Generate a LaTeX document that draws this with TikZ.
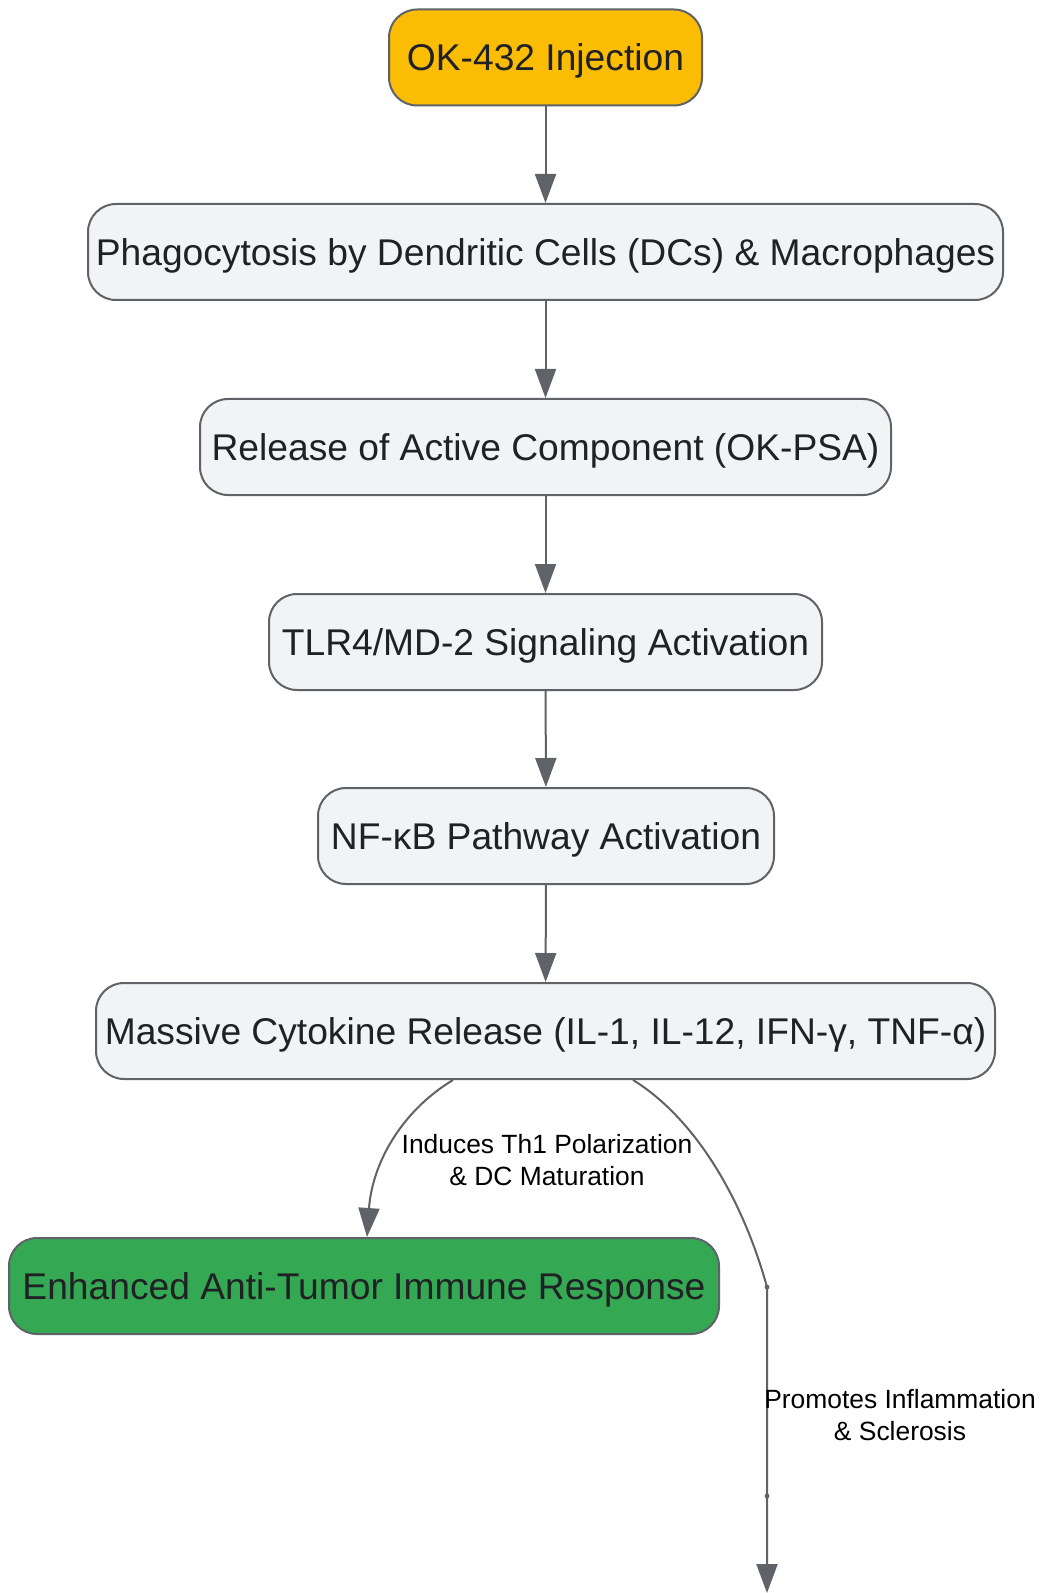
\documentclass[tikz,border=0pt]{standalone}
\usepackage{fontspec}
\setmainfont{Liberation Sans}
\usetikzlibrary{arrows.meta}
\definecolor{boxfill}{HTML}{F1F3F4}
\definecolor{linegray}{HTML}{5F6368}
\definecolor{startyellow}{HTML}{FBBC04}
\definecolor{endgreen}{HTML}{34A853}
\definecolor{txtdark}{HTML}{202124}
\tikzset{
  stepbox/.style={draw=linegray, line width=1pt, fill=boxfill, rounded corners=14pt,
    minimum height=48pt, inner sep=0pt, text=txtdark,
    font=\fontsize{18.6pt}{22pt}\selectfont, text height=13.3pt, text depth=0pt},
  arr/.style={draw=linegray, line width=1pt, -{Triangle[length=14.5pt,width=10.5pt]}},
  elabel/.style={align=center, text=black, inner sep=0pt,
    font=\fontsize{13.2pt}{16pt}\selectfont},
}
\begin{document}
\begin{tikzpicture}[x=0.5pt,y=-0.5pt]
\useasboundingbox[fill=white] (0,0) rectangle (1041,1593);
\node[stepbox, fill=startyellow, minimum width=156.5pt] (ok) at (545.5,57.5) {OK-432 Injection};
\node[stepbox, minimum width=457.5pt] (phago) at (545.5,252) {Phagocytosis by Dendritic Cells (DCs) \& Macrophages};
\node[stepbox, minimum width=345.5pt] (release) at (545.5,447) {Release of Active Component (OK-PSA)};
\node[stepbox, minimum width=276.5pt] (tlr) at (545.5,642) {TLR4/MD-2 Signaling Activation};
\node[stepbox, minimum width=228pt] (nfkb) at (546,836) {NF-κB Pathway Activation};
\node[stepbox, minimum width=449.5pt] (cyto) at (545.5,1031) {Massive Cytokine Release (IL-1, IL-12, IFN-γ, TNF-α)};
\node[stepbox, fill=endgreen, minimum width=355pt] (enh) at (364,1286) {Enhanced Anti-Tumor Immune Response};

\draw[arr] (ok) -- (phago);
\draw[arr] (phago) -- (release);
\draw[arr] (release) -- (tlr);
\draw[arr] (tlr) -- (nfkb);
\draw[arr] (nfkb) -- (cyto);

\coordinate (bend) at (767,1287);
\coordinate (mid) at (767,1496);
\coordinate (free) at (767,1593);

\draw[arr] ([xshift=-46.25pt]cyto.south) .. controls (400,1112) and (372,1165) .. ([xshift=1.5pt]enh.north);
\draw[arr] ([xshift=43.75pt]cyto.south) .. controls (690,1115) and (740,1190) .. (bend) -- (mid) -- (free);
\fill[linegray] (bend) circle[radius=1.2pt];
\fill[linegray] (mid) circle[radius=1.2pt];

\node[elabel, anchor=base] (lab1) at (547,1185) {Induces Th1 Polarization\\\& DC Maturation};
\node[elabel, anchor=base] (lab2) at (900,1440) {Promotes Inflammation\\\& Sclerosis};
\end{tikzpicture}
\end{document}
